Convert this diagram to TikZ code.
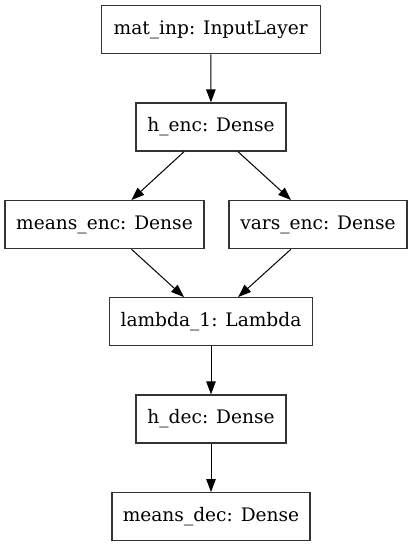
\documentclass[tikz,border=0pt]{standalone}
\usepackage{fontspec}
\setmainfont{DejaVu Serif}
\usetikzlibrary{arrows.meta}

\begin{document}
\begin{tikzpicture}[x=1pt, y=-1pt,
		layer/.style={draw=black!80, line width=1.3pt, minimum height=48pt, inner xsep=0pt, font=\fontsize{18.6}{22}\selectfont},
		conn/.style={-{Triangle[length=13pt, width=9.5pt]}, line width=1pt}]
			%%%%% START %%%%%
			\useasboundingbox (0, 0) rectangle (413, 547);
			
			\node[layer, minimum width=219pt] (matinp) at (210.7, 29.7) {mat\_inp: InputLayer};
			\node[layer, minimum width=150pt] (henc) at (211, 127) {h\_enc: Dense};
			
			\node[layer, minimum width=199pt] (meansenc) at (104.5, 224.7) {means\_enc: Dense};
			\node[layer, minimum width=178pt] (varsenc) at (318, 224.7) {vars\_enc: Dense};
			
			\node[layer, minimum width=203pt] (lambda) at (211, 321.7) {lambda\_1: Lambda};
			\node[layer, minimum width=150pt] (hdec) at (211, 419) {h\_dec: Dense};
			\node[layer, minimum width=198pt] (meansdec) at (211, 516.7) {means\_dec: Dense};
			
			\draw[conn] (matinp) -- (henc);
			\draw[conn] (henc) -- (meansenc);
			\draw[conn] (henc) -- (varsenc);
			\draw[conn] (meansenc) -- (lambda);
			\draw[conn] (varsenc) -- (lambda);
			\draw[conn] (lambda) -- (hdec);
			\draw[conn] (hdec) -- (meansdec);
			%%%%% END %%%%%
\end{tikzpicture}
\end{document}
